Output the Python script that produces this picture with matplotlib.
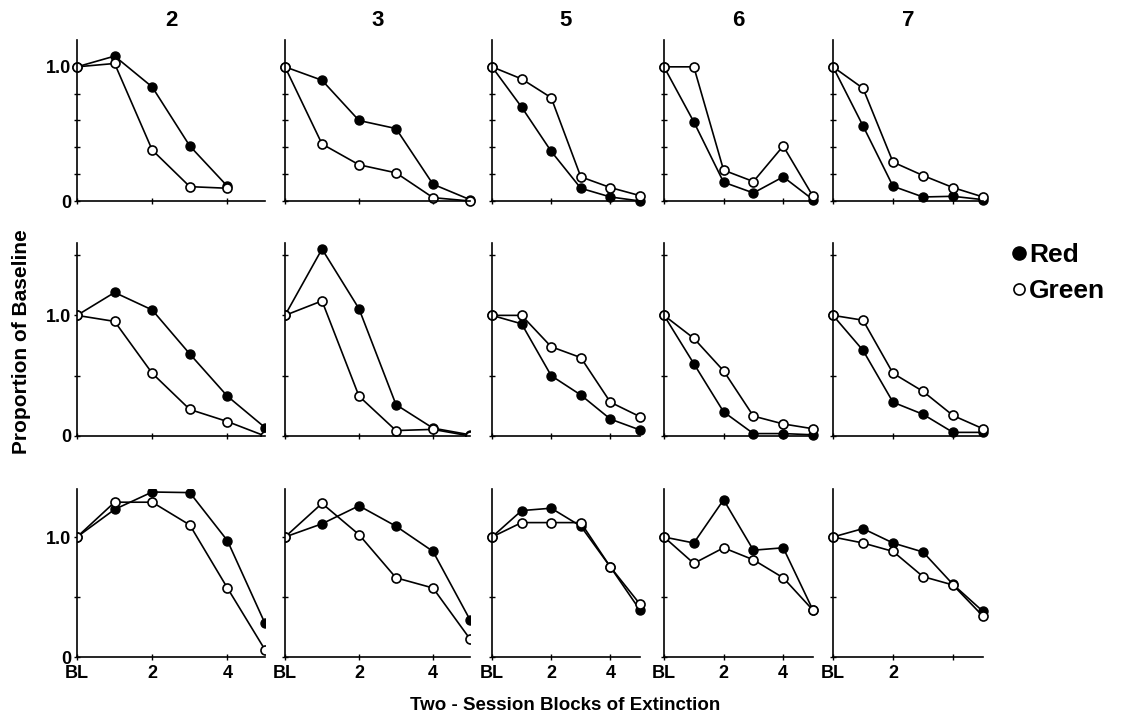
import matplotlib
matplotlib.use("Agg")
import matplotlib.pyplot as plt
import numpy as np

plt.rcParams['font.family'] = ['Liberation Sans', 'DejaVu Sans']
plt.rcParams['font.weight'] = 'bold'

subjects = ["2", "3", "5", "6", "7"]
blocks = [0, 1, 2, 3, 4, 5]

# row 1
red_1 = [
    [1.0, 1.08, 0.85, 0.41, 0.11],
    [1.0, 0.90, 0.60, 0.54, 0.125, 0.01],
    [1.0, 0.70, 0.37, 0.095, 0.03, 0.0],
    [1.0, 0.59, 0.14, 0.06, 0.18, 0.01],
    [1.0, 0.56, 0.11, 0.03, 0.035, 0.01],
]
green_1 = [
    [1.0, 1.025, 0.38, 0.107, 0.095],
    [1.0, 0.425, 0.27, 0.21, 0.025, 0.0],
    [1.0, 0.91, 0.77, 0.18, 0.10, 0.04],
    [1.0, 1.0, 0.23, 0.145, 0.41, 0.035],
    [1.0, 0.84, 0.29, 0.19, 0.10, 0.03],
]
# row 2
red_2 = [
    [1.0, 1.19, 1.045, 0.68, 0.33, 0.07],
    [1.0, 1.55, 1.055, 0.26, 0.065, 0.01],
    [1.0, 0.93, 0.50, 0.34, 0.14, 0.05],
    [1.0, 0.60, 0.20, 0.02, 0.02, 0.01],
    [1.0, 0.71, 0.28, 0.18, 0.03, 0.03],
]
green_2 = [
    [1.0, 0.95, 0.52, 0.22, 0.12, 0.0],
    [1.0, 1.12, 0.33, 0.045, 0.055, 0.0],
    [1.0, 1.0, 0.74, 0.65, 0.28, 0.16],
    [1.0, 0.81, 0.54, 0.165, 0.10, 0.06],
    [1.0, 0.96, 0.52, 0.37, 0.17, 0.06],
]
# row 3
red_3 = [
    [1.0, 1.23, 1.375, 1.37, 0.97, 0.28],
    [1.0, 1.11, 1.26, 1.09, 0.88, 0.31],
    [1.0, 1.22, 1.24, 1.09, 0.75, 0.39],
    [1.0, 0.95, 1.31, 0.89, 0.91, 0.39],
    [1.0, 1.07, 0.95, 0.875, 0.605, 0.38],
]
green_3 = [
    [1.0, 1.29, 1.29, 1.10, 0.575, 0.06],
    [1.0, 1.28, 1.02, 0.66, 0.575, 0.15],
    [1.0, 1.12, 1.12, 1.12, 0.75, 0.44],
    [1.0, 0.78, 0.91, 0.81, 0.66, 0.39],
    [1.0, 0.95, 0.88, 0.67, 0.60, 0.34],
]

reds = [red_1, red_2, red_3]
greens = [green_1, green_2, green_3]
ytops = [1.2, 1.6, 1.4]
ysteps = [0.2, 0.5, 0.5]

W, H = 1122, 722
col_px = [(77, 265), (285, 470), (492, 640), (664, 813), (833, 983)]
row_px = [(40, 201), (243, 436), (489, 657)]

fig = plt.figure(figsize=(W / 100, H / 100), dpi=100)

for r in range(3):
    for c in range(5):
        x0, x1 = col_px[c]
        t, b = row_px[r]
        ax = fig.add_axes([x0 / W, 1 - b / H, (x1 - x0) / W, (b - t) / H])
        red = reds[r][c]
        green = greens[r][c]
        clip = c < 2 and r > 0
        ax.plot(blocks[:len(red)], red, color='black', lw=1.2, marker='o',
                ms=6.5, mfc='black', mec='black', clip_on=clip)
        ax.plot(blocks[:len(green)], green, color='black', lw=1.2, marker='o',
                ms=6.5, mfc='white', mec='black', mew=1.2, clip_on=clip)
        ax.set_xlim(0, 5)
        ax.set_ylim(0, ytops[r])
        for s in ['top', 'right']:
            ax.spines[s].set_visible(False)
        for s in ['left', 'bottom']:
            ax.spines[s].set_linewidth(1.2)
        yt = np.round(np.arange(0, ytops[r] - 0.01, ysteps[r]), 2)
        if c == 0:
            ylab = ['0' if v == 0 else ('1.0' if v == 1.0 else '') for v in yt]
        else:
            ylab = ['' for v in yt]
        ax.set_yticks(yt, ylab)
        if r == 2:
            xlab = ['BL', '2', '4'] if c < 4 else ['BL', '2', '']
        else:
            xlab = ['', '', '']
        ax.set_xticks([0, 2, 4], xlab)
        ax.tick_params(direction='inout', length=4, width=1, labelsize=13, pad=2)
        ax.tick_params(axis='x', pad=4)
        if r == 0:
            ax.set_title(subjects[c], fontsize=16, fontweight='bold', pad=10)

h_red, = fig.axes[0].plot([], [], 'o', color='black', ms=9.5)
h_green, = fig.axes[0].plot([], [], 'o', mfc='white', mec='black', mew=1.2, ms=8)
fig.legend([h_red, h_green], ['Red', 'Green'], loc='upper left',
           bbox_to_anchor=(1008 / W, 1 - 243 / H), frameon=False,
           fontsize=19, handletextpad=0.0, labelspacing=0.45,
           borderaxespad=0, borderpad=0, handlelength=0.8)

fig.text(22 / W, 1 - 342 / H, 'Proportion of Baseline', rotation=90,
         ha='center', va='center', fontsize=15, fontweight='bold')
fig.text(565 / W, 1 - 706 / H, 'Two - Session Blocks of Extinction',
         ha='center', va='center', fontsize=13.5, fontweight='bold')

fig.savefig('out.png', dpi=100)
